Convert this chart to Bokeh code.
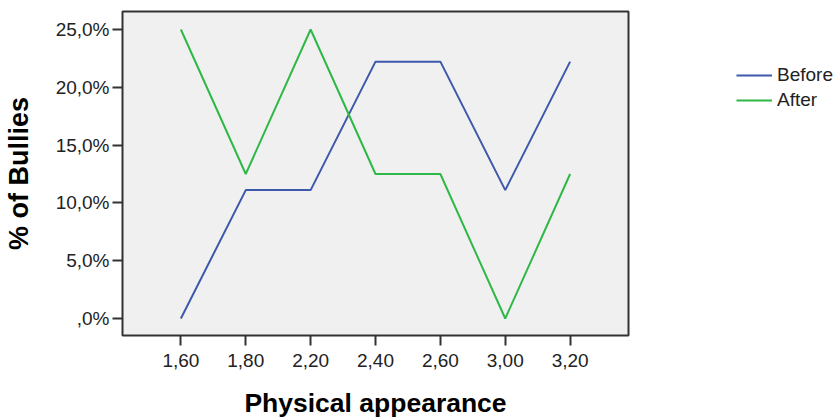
from bokeh.plotting import figure
from bokeh.layouts import row
from bokeh.models import FixedTicker, Range1d, Legend, LegendItem
from bokeh.embed import file_html
from bokeh.resources import INLINE

# ---- data ----
categories = ["1,60", "1,80", "2,20", "2,40", "2,60", "3,00", "3,20"]
before = [0.0, 11.11, 11.11, 22.22, 22.22, 11.11, 22.22]
after = [25.0, 12.5, 25.0, 12.5, 12.5, 0.0, 12.5]
y_ticks = [0, 5, 10, 15, 20, 25]
y_tick_labels = [",0%", "5,0%", "10,0%", "15,0%", "20,0%", "25,0%"]
series_names = ["Before", "After"]
series_colors = ["#3E58AC", "#2EB848"]

x = list(range(len(categories)))

FONT = "Liberation Sans"

p = figure(width=640, height=420, output_backend="svg", toolbar_location=None,
           x_range=Range1d(-0.9, len(categories) - 1 + 0.9),
           y_range=Range1d(-1.47, 26.56),
           min_border_left=121, min_border_right=12,
           min_border_top=11, min_border_bottom=85)

p.background_fill_color = "#f0f0f0"
p.border_fill_color = "white"
p.outline_line_color = "#333333"
p.outline_line_width = 2
p.xgrid.visible = False
p.ygrid.visible = False

p.line(x, before, line_color=series_colors[0], line_width=2)
p.line(x, after, line_color=series_colors[1], line_width=2)

# axes
p.xaxis.ticker = FixedTicker(ticks=x)
p.xaxis.major_label_overrides = {i: c for i, c in enumerate(categories)}
p.yaxis.ticker = FixedTicker(ticks=y_ticks)
p.yaxis.major_label_overrides = {t: l for t, l in zip(y_ticks, y_tick_labels)}

for ax in (p.xaxis, p.yaxis):
    ax.axis_line_color = None
    ax.major_tick_line_color = "#333333"
    ax.major_tick_line_width = 2
    ax.major_tick_out = 10
    ax.major_tick_in = 0
    ax.minor_tick_line_color = None
    ax.major_label_text_font = FONT
    ax.major_label_text_font_size = "19px"
    ax.major_label_text_color = "#222222"
    ax.axis_label_text_font = FONT
    ax.axis_label_text_font_style = "bold"
    ax.axis_label_text_color = "black"

p.xaxis.axis_label = "Physical appearance"
p.yaxis.axis_label = "% of Bullies"
p.xaxis.axis_label_text_font_size = "26.5px"
p.yaxis.axis_label_text_font_size = "27px"
p.xaxis.major_label_standoff = 8
p.yaxis.major_label_standoff = 3
p.xaxis.axis_label_standoff = 18
p.yaxis.axis_label_standoff = 19

# ---- legend panel (separate figure to the right) ----
lg = figure(width=197, height=420, output_backend="svg", toolbar_location=None,
            x_axis_type=None, y_axis_type=None,
            x_range=Range1d(100, 101), y_range=Range1d(100, 101),
            min_border_left=0, min_border_right=0, min_border_top=0, min_border_bottom=0)
lg.outline_line_color = None
lg.background_fill_color = "white"
lg.border_fill_color = "white"
lg.xgrid.visible = False
lg.ygrid.visible = False
# the legend's renderers reuse the series data; they lie outside this panel's ranges
lr1 = lg.line(x, before, line_color=series_colors[0], line_width=2)
lr2 = lg.line(x, after, line_color=series_colors[1], line_width=2)

legend = Legend(items=[LegendItem(label=series_names[0], renderers=[lr1]),
                       LegendItem(label=series_names[1], renderers=[lr2])],
                location=(96, 224))
legend.glyph_width = 36
legend.glyph_height = 20
legend.label_height = 20
legend.label_standoff = 5
legend.spacing = 3
legend.padding = 0
legend.margin = 0
legend.border_line_color = None
legend.background_fill_alpha = 0
legend.label_text_font = FONT
legend.label_text_font_size = "19px"
legend.label_text_color = "#222222"
lg.add_layout(legend, "center")

layout = row(p, lg)

open("out.html", "w").write(file_html(layout, INLINE))
